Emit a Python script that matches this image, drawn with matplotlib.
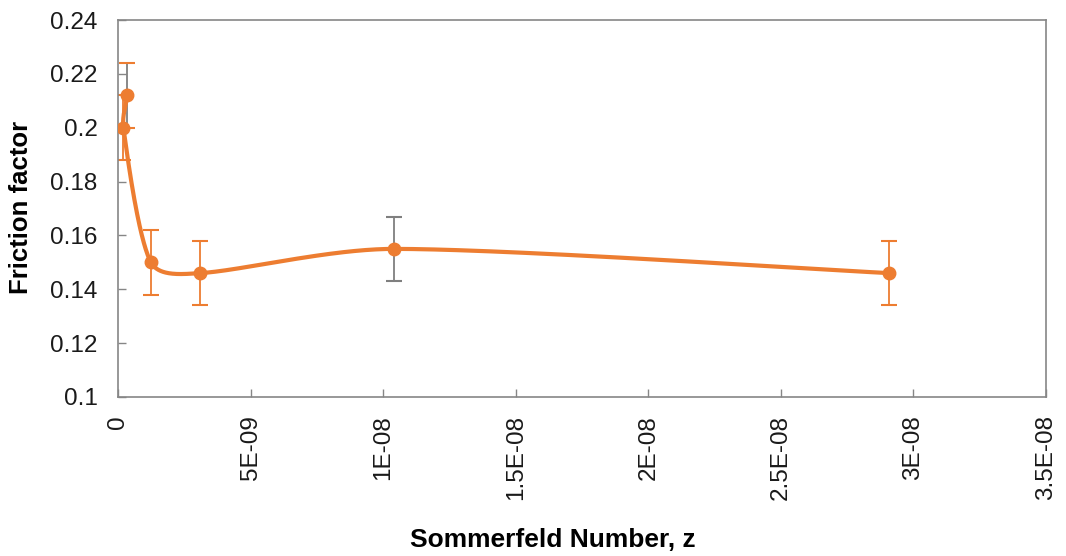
import numpy as np
import matplotlib
matplotlib.use("Agg")
import matplotlib.pyplot as plt
from matplotlib.ticker import FixedLocator, FixedFormatter

plt.rcParams['font.family'] = ['Liberation Sans', 'DejaVu Sans']

# Measured friction factor vs Sommerfeld number (in series order)
sommerfeld = [3.4e-10, 1.9e-10, 1.23e-9, 3.08e-9, 1.04e-8, 2.91e-8]
friction = [0.212, 0.200, 0.150, 0.146, 0.155, 0.146]
friction_err = [0.012, 0.012, 0.012, 0.012, 0.012, 0.012]
err_line_colors = ['#7f7f7f', '#ED7D31', '#ED7D31', '#ED7D31', '#7f7f7f', '#ED7D31']
err_cap_colors = ['#ED7D31', '#ED7D31', '#ED7D31', '#ED7D31', '#7f7f7f', '#ED7D31']

x_ticks = [0, 5e-9, 1e-8, 1.5e-8, 2e-8, 2.5e-8, 3e-8, 3.5e-8]
x_tick_labels = ['0', '5E-09', '1E-08', '1.5E-08', '2E-08', '2.5E-08', '3E-08', '3.5E-08']
y_ticks = [0.1, 0.12, 0.14, 0.16, 0.18, 0.2, 0.22, 0.24]
y_tick_labels = ['0.1', '0.12', '0.14', '0.16', '0.18', '0.2', '0.22', '0.24']

ORANGE = '#ED7D31'
GREY = '#868686'

fig = plt.figure(figsize=(10.66, 5.56), dpi=100)
ax = fig.add_axes([0.111, 0.286, 0.870, 0.678])
ax.set_xlim(x_ticks[0], x_ticks[-1])
ax.set_ylim(y_ticks[0], y_ticks[-1])


def smooth_curve(ax, xs, ys, steps=80):
    """Smoothed line through the points (cubic Bezier segments with
    Catmull-Rom tangents, handles limited to a third of each segment),
    computed in display space so the curvature looks right on screen."""
    pts = ax.transData.transform(np.column_stack([xs, ys]))
    p = np.vstack([pts[0], pts, pts[-1]])

    def clamp(v, seg_len):
        n = np.hypot(*v)
        lim = seg_len / 3.0
        return v * (lim / n) if n > lim and n > 0 else v

    out = []
    for i in range(1, len(p) - 2):
        p0, p1, p2, p3 = p[i - 1], p[i], p[i + 1], p[i + 2]
        seg_len = np.hypot(*(p2 - p1))
        c1 = p1 + clamp((p2 - p0) / 6.0, seg_len)
        c2 = p2 - clamp((p3 - p1) / 6.0, seg_len)
        t = np.linspace(0, 1, steps)[:, None]
        seg = ((1 - t) ** 3) * p1 + 3 * ((1 - t) ** 2) * t * c1 + 3 * (1 - t) * t ** 2 * c2 + t ** 3 * p2
        out.append(seg)
    curve = np.vstack(out)
    data = ax.transData.inverted().transform(curve)
    return data[:, 0], data[:, 1]


# Error bars
for x, y, e, lc, cc in zip(sommerfeld, friction, friction_err, err_line_colors, err_cap_colors):
    ax.errorbar([x], [y], yerr=[e], fmt='none', ecolor=lc, elinewidth=1.3,
                capsize=0, zorder=2)
    ax.errorbar([x], [y], yerr=[e], fmt='none', ecolor=cc, elinewidth=0,
                capsize=5.5, capthick=1.5, zorder=2)

sx, sy = smooth_curve(ax, sommerfeld, friction)
ax.plot(sx, sy, color=ORANGE, lw=3, zorder=3, solid_capstyle='round')
ax.plot(sommerfeld, friction, 'o', color=ORANGE, markersize=9, zorder=4)

ax.xaxis.set_major_locator(FixedLocator(x_ticks))
ax.xaxis.set_major_formatter(FixedFormatter(x_tick_labels))
ax.yaxis.set_major_locator(FixedLocator(y_ticks))
ax.yaxis.set_major_formatter(FixedFormatter(y_tick_labels))

ax.tick_params(axis='both', direction='in', length=6, width=1, color=GREY,
               labelsize=17.5, labelcolor='#1a1a1a')
ax.tick_params(axis='x', labelrotation=90, pad=13)
ax.tick_params(axis='y', pad=15)
for s in ax.spines.values():
    s.set_color(GREY)
    s.set_linewidth(1.2)

ax.set_xlabel('Sommerfeld Number, z', fontsize=19, fontweight='bold',
              va='center', ha='center')
ax.xaxis.set_label_coords(0.468, -0.379)
ax.set_ylabel('Friction factor', fontsize=18.5, fontweight='bold',
              va='center', ha='center')
ax.yaxis.set_label_coords(-0.1045, 0.503)

fig.savefig('out.png', dpi=100)
